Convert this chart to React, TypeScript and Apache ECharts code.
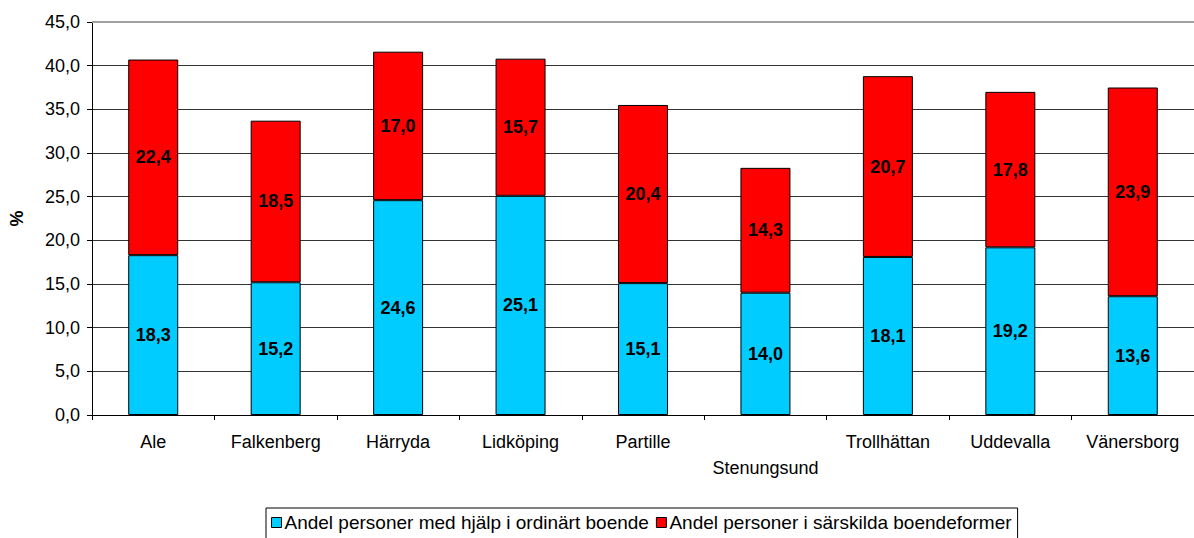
import React, { useEffect, useRef } from "react";
import * as echarts from "echarts";

const categories = ["Ale", "Falkenberg", "Härryda", "Lidköping", "Partille", "Stenungsund", "Trollhättan", "Uddevalla", "Vänersborg"];
const ordinaryHome = [18.3, 15.2, 24.6, 25.1, 15.1, 14.0, 18.1, 19.2, 13.6];
const specialHome = [22.4, 18.5, 17.0, 15.7, 20.4, 14.3, 20.7, 17.8, 23.9];
const seriesNames = ["Andel personer med hjälp i ordinärt boende", "Andel personer i särskilda boendeformer"];

const fmt = (v: number) => v.toFixed(1).replace(".", ",");
const FONT = "'Liberation Sans', Arial, sans-serif";

export default function App() {
  const ref = useRef<HTMLDivElement>(null);
  useEffect(() => {
    if (!ref.current) return;
    const chart = echarts.init(ref.current, null, { renderer: "svg" });
    const label = {
      show: true,
      position: "inside" as const,
      color: "#000",
      fontWeight: "bold" as const,
      fontSize: 18,
      fontFamily: FONT,
      formatter: (p: any) => fmt(p.value),
    };
    chart.setOption({
      animation: false,
      backgroundColor: "#fff",
      textStyle: { fontFamily: FONT },
      grid: { left: 92, right: 0, top: 22, bottom: 123 },
      legend: {
        left: 266,
        top: 508,
        orient: "horizontal",
        borderColor: "#000",
        borderWidth: 1,
        padding: [5, 6, 20, 5],
        itemWidth: 10,
        itemHeight: 10,
        itemGap: 7,
        icon: "rect",
        textStyle: { fontSize: 19, color: "#000", fontFamily: FONT, padding: [0, 0, 0, -2] },
        data: seriesNames.map((n) => ({ name: n, itemStyle: { borderColor: "#000", borderWidth: 1 } })),
      },
      xAxis: {
        type: "category",
        data: categories,
        axisLine: { lineStyle: { color: "#000", width: 1 } },
        axisTick: { show: true, length: 5, lineStyle: { color: "#000" } },
        axisLabel: {
          color: "#000",
          fontSize: 18,
          fontFamily: FONT,
          margin: 14,
          lineHeight: 26,
          interval: 0,
          formatter: (v: string, i: number) => (i === 5 ? "\n" + v : v),
        },
      },
      yAxis: {
        type: "value",
        min: 0,
        max: 45,
        interval: 5,
        name: "%",
        nameLocation: "middle",
        nameGap: 66,
        nameRotate: 90,
        nameTextStyle: { fontSize: 18, fontWeight: "bold", color: "#000", fontFamily: FONT },
        axisLine: { show: true, lineStyle: { color: "#000", width: 1 } },
        axisTick: { show: true, length: 5, lineStyle: { color: "#000" } },
        axisLabel: { color: "#000", fontSize: 18, fontFamily: FONT, margin: 12, formatter: (v: number) => fmt(v) },
        splitLine: {
          show: true,
          lineStyle: { color: ["#000", "#333", "#333", "#333", "#333", "#333", "#333", "#333", "#333", "#a0a0a0"], width: 1 },
        },
      },
      series: [
        {
          name: seriesNames[0],
          type: "bar",
          stack: "total",
          data: ordinaryHome,
          barWidth: 50,
          itemStyle: { color: "#00ccff", borderColor: "#000", borderWidth: 1 },
          label,
          markLine: {
            silent: true,
            symbol: "none",
            label: { show: false },
            lineStyle: { color: "#a0a0a0", width: 2, type: "solid" },
            data: [{ yAxis: 45 }],
          },
        },
        {
          name: seriesNames[1],
          type: "bar",
          stack: "total",
          data: specialHome,
          barWidth: 50,
          itemStyle: { color: "#ff0000", borderColor: "#000", borderWidth: 1 },
          label,
        },
      ],
    });
    return () => chart.dispose();
  }, []);
  return <div ref={ref} style={{ position: "absolute", left: 0, top: 0, width: 1194, height: 538 }} />;
}
